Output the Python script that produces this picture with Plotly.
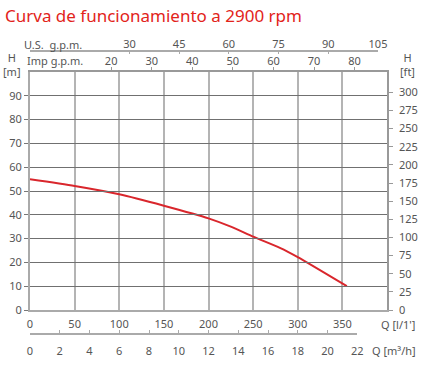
import plotly.graph_objects as go

# Data
q_lmin = [0, 50, 100, 150, 200, 225, 250, 280, 300, 355]
h_m = [54.9, 52.1, 48.6, 43.8, 38.5, 35.0, 30.8, 26.1, 22.2, 10.0]

q_ticks = [0, 50, 100, 150, 200, 250, 300, 350]
m3h_ticks = [0, 2, 4, 6, 8, 10, 12, 14, 16, 18, 20, 22]
imp_ticks = [20, 30, 40, 50, 60, 70, 80]
us_ticks = [30, 45, 60, 75, 90, 105]
h_ticks = [0, 10, 20, 30, 40, 50, 60, 70, 80, 90]
ft_ticks = [0, 25, 50, 75, 100, 125, 150, 175, 200, 225, 250, 275, 300]

Q_MAX = 400
H_MAX = 100
M3H_PER_LMIN = 60 / 1000
IMP_PER_LMIN = 1 / 4.54609
FT_PER_M = 3.28084

W, H = 430, 368
ML, MR, MT, MB = 30, 43, 20, 10
paper_h = H - MT - MB
paper_w = W - ML - MR

def py(y):  # pixel y -> paper fraction
    return (H - MB - y) / paper_h

def px(x):
    return (x - ML) / paper_w

plot_top, plot_bot = 72, 310
ydom = [py(plot_bot), py(plot_top)]

tick_font = dict(family="Noto Sans", size=11, color="#555555")
vgrid = "#b4b4b4"
hgrid = "#707070"

fig = go.Figure()
fig.add_trace(go.Scatter(x=q_lmin, y=h_m, mode="lines",
                         line=dict(color="#d9262c", width=2, shape="spline", smoothing=0.6),
                         hoverinfo="skip", showlegend=False))
# dummy traces to bring in the auxiliary scales
fig.add_trace(go.Scatter(x=[], y=[], xaxis="x2", yaxis="y", showlegend=False, hoverinfo="skip"))
fig.add_trace(go.Scatter(x=[], y=[], xaxis="x3", yaxis="y", showlegend=False, hoverinfo="skip"))
fig.add_trace(go.Scatter(x=[], y=[], xaxis="x4", yaxis="y", showlegend=False, hoverinfo="skip"))
fig.add_trace(go.Scatter(x=[], y=[], xaxis="x", yaxis="y2", showlegend=False, hoverinfo="skip"))

m3h_end = 22
m3h_dom_end = px(30 + m3h_end / M3H_PER_LMIN * (357 / Q_MAX))
us_dom_end = px(378)

common = dict(automargin=False, fixedrange=True, tickfont=tick_font, zeroline=False)

fig.update_layout(
    template="none",
    width=W, height=H,
    margin=dict(l=ML, r=MR, t=MT, b=MB, autoexpand=False),
    paper_bgcolor="white", plot_bgcolor="rgba(0,0,0,0)",
    font=tick_font,
    xaxis=dict(range=[0, Q_MAX], domain=[0, 1], anchor="y", tickvals=q_ticks,
               showgrid=True, gridcolor=vgrid, gridwidth=2,
               showline=True, linecolor="#aaaaaa", linewidth=2,
               ticks="outside", ticklen=3, tickcolor="rgba(0,0,0,0)", **common),
    xaxis2=dict(range=[0, m3h_end], domain=[0, m3h_dom_end], anchor="free", position=py(334),
                tickvals=m3h_ticks, showgrid=False,
                showline=True, linecolor="#aaaaaa", linewidth=1.5,
                ticks="inside", ticklen=3, tickcolor="#aaaaaa", ticklabelstandoff=7, **common),
    xaxis3=dict(range=[0, Q_MAX * IMP_PER_LMIN], domain=[0, 1], anchor="y", side="top",
                tickvals=imp_ticks, showgrid=False,
                showline=True, linecolor="#999999", linewidth=1.5,
                ticks="outside", ticklen=3, tickcolor="#999999", ticklabelstandoff=-2, **common),
    xaxis4=dict(range=[0, 105], domain=[0, us_dom_end], anchor="free", position=py(51), side="top",
                tickvals=us_ticks, showgrid=False,
                showline=True, linecolor="#aaaaaa", linewidth=1.5,
                ticks="inside", ticklen=2, tickcolor="#aaaaaa", ticklabelstandoff=-2, **common),
    yaxis=dict(range=[0, H_MAX], domain=ydom, anchor="x", tickvals=h_ticks,
               showgrid=True, gridcolor=hgrid, gridwidth=1,
               showline=True, linecolor="#aaaaaa", linewidth=2,
               ticks="outside", ticklen=4, tickcolor="#777777", **common),
    yaxis2=dict(range=[0, H_MAX * FT_PER_M], overlaying="y", side="right", anchor="x",
                tickvals=ft_ticks, showgrid=False,
                showline=True, linecolor="#999999", linewidth=1.5,
                ticks="outside", ticklen=4, tickcolor="#999999", ticklabelstandoff=4, **common),
)

ann_font = dict(family="Noto Sans", size=11, color="#555555")
def ann(text, x, y, xanchor="center", font=ann_font):
    fig.add_annotation(text=text, xref="paper", yref="paper", x=px(x), y=py(y),
                       xanchor=xanchor, yanchor="middle", showarrow=False, font=font)

ann("Curva de funcionamiento a 2900 rpm", 3, 15, "left",
    dict(family="Noto Sans", size=17, color="#e2231a"))
ann("U.S.  g.p.m.", 22, 44, "left")
ann("Imp g.p.m.", 25, 60, "left")
ann("H<br>[m]", 12, 64)
ann("H<br>[ft]", 407, 64)
ann("Q [l/1']", 398, 324)
ann("Q [m³/h]", 394, 350)

fig.write_html("out.html")
